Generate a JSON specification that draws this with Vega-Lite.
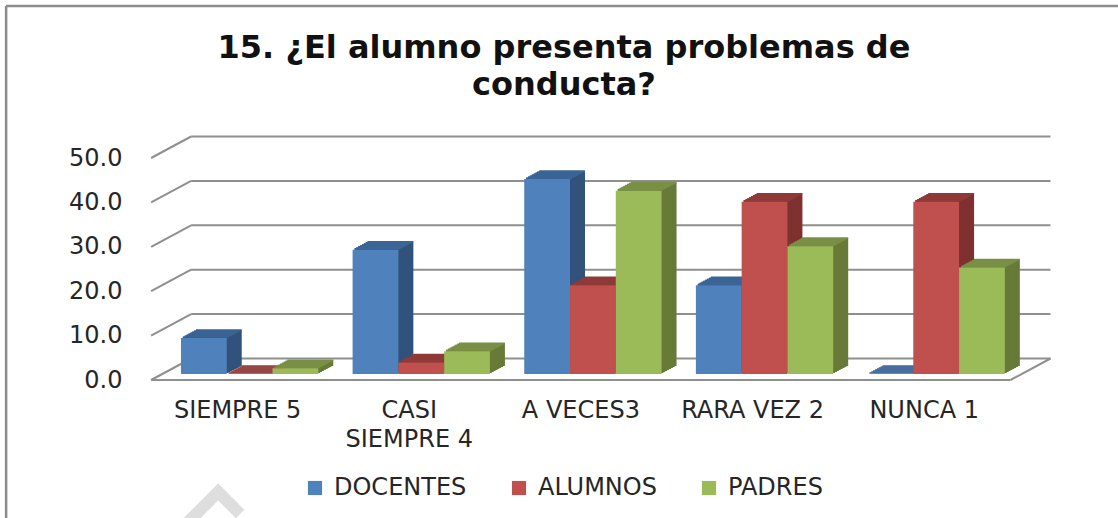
{
"$schema":"https://vega.github.io/schema/vega-lite/v6.json",
"width":1112,"height":512,
"autosize":{"type":"none"},
"padding":{"left":6,"top":6,"right":0,"bottom":0},
"background":"white",
"view":{"stroke":null},
"title":{"text":["15. ¿El alumno presenta problemas de","conducta?"],"font":"DejaVu Sans","fontWeight":"bold","fontSize":32,"color":"#111111","anchor":"middle","frame":"group","lineHeight":37,"offset":-122,"dx":2,"baseline":"alphabetic"},
"datasets":{
"bars":[
{"group":"SIEMPRE 5","serie":"DOCENTES","valor":8.1},
{"group":"SIEMPRE 5","serie":"ALUMNOS","valor":0},
{"group":"SIEMPRE 5","serie":"PADRES","valor":1.3},
{"group":"CASI SIEMPRE 4","serie":"DOCENTES","valor":28},
{"group":"CASI SIEMPRE 4","serie":"ALUMNOS","valor":2.6},
{"group":"CASI SIEMPRE 4","serie":"PADRES","valor":5.1},
{"group":"A VECES3","serie":"DOCENTES","valor":43.9},
{"group":"A VECES3","serie":"ALUMNOS","valor":20},
{"group":"A VECES3","serie":"PADRES","valor":41.3},
{"group":"RARA VEZ 2","serie":"DOCENTES","valor":20},
{"group":"RARA VEZ 2","serie":"ALUMNOS","valor":38.8},
{"group":"RARA VEZ 2","serie":"PADRES","valor":28.8},
{"group":"NUNCA 1","serie":"DOCENTES","valor":0},
{"group":"NUNCA 1","serie":"ALUMNOS","valor":38.8},
{"group":"NUNCA 1","serie":"PADRES","valor":24}
],
"levels":[{"level":0},{"level":10},{"level":20},{"level":30},{"level":40},{"level":50}],
"floor":[{"level":0}]
},
"data":{"name":"bars"},
"layer":[
{"data":{"name":"levels"},"mark":{"type":"rule","stroke":"#8f8f8f","strokeWidth":2,"xOffset":-58.5,"x2Offset":114.3,"yOffset":-15.5},
 "encoding":{"x":{"datum":"SIEMPRE 5","type":"nominal","axis":null,"scale":{"domain":["SIEMPRE 5","CASI SIEMPRE 4","A VECES3","RARA VEZ 2","NUNCA 1"],"range":[157.8,1016],"paddingInner":0.2,"paddingOuter":0.1}},"x2":{"datum":"NUNCA 1"},
  "y":{"field":"level","type":"quantitative","axis":null,"scale":{"domain":[0,50],"range":[368,146],"nice":false,"zero":false}}}},
{"data":{"name":"levels"},"mark":{"type":"rule","stroke":"#8f8f8f","strokeWidth":2,"xOffset":-98.5,"x2Offset":-58.5,"yOffset":6,"y2Offset":-15.5},
 "encoding":{"x":{"datum":"SIEMPRE 5","type":"nominal","axis":null,"scale":{"domain":["SIEMPRE 5","CASI SIEMPRE 4","A VECES3","RARA VEZ 2","NUNCA 1"],"range":[157.8,1016],"paddingInner":0.2,"paddingOuter":0.1}},"x2":{"datum":"SIEMPRE 5"},
  "y":{"field":"level","type":"quantitative","axis":null},"y2":{"field":"level"}}},
{"data":{"name":"floor"},"mark":{"type":"rule","stroke":"#8f8f8f","strokeWidth":2,"xOffset":-98.5,"x2Offset":74.3,"yOffset":6},
 "encoding":{"x":{"datum":"SIEMPRE 5","type":"nominal","axis":null,"scale":{"domain":["SIEMPRE 5","CASI SIEMPRE 4","A VECES3","RARA VEZ 2","NUNCA 1"],"range":[157.8,1016],"paddingInner":0.2,"paddingOuter":0.1}},"x2":{"datum":"NUNCA 1"},
  "y":{"field":"level","type":"quantitative","axis":null}}},
{"data":{"name":"floor"},"mark":{"type":"rule","stroke":"#8f8f8f","strokeWidth":2,"xOffset":74.3,"x2Offset":114.3,"yOffset":6,"y2Offset":-15.5},
 "encoding":{"x":{"datum":"NUNCA 1","type":"nominal","axis":null,"scale":{"domain":["SIEMPRE 5","CASI SIEMPRE 4","A VECES3","RARA VEZ 2","NUNCA 1"],"range":[157.8,1016],"paddingInner":0.2,"paddingOuter":0.1}},"x2":{"datum":"NUNCA 1"},
  "y":{"field":"level","type":"quantitative","axis":null},"y2":{"field":"level"}}},
{"data":{"name":"floor"},"mark":{"type":"rule","stroke":"#8c8c8c","strokeWidth":2.5,"xOffset":-243.5},
 "encoding":{"x":{"datum":"SIEMPRE 5","type":"nominal","axis":null,"scale":{"domain":["SIEMPRE 5","CASI SIEMPRE 4","A VECES3","RARA VEZ 2","NUNCA 1"],"range":[157.8,1016],"paddingInner":0.2,"paddingOuter":0.1}}}},
{"data":{"name":"floor"},"mark":{"type":"rule","stroke":"#8c8c8c","strokeWidth":2.5,"yOffset":-146},
 "encoding":{"y":{"datum":50,"type":"quantitative","axis":null}}},
{"data":{"name":"floor"},"mark":{"type":"rule","stroke":"#dedede","strokeWidth":12,"xOffset":-27.5,"x2Offset":-63.5,"yOffset":114,"y2Offset":150},
 "encoding":{"x":{"datum":"SIEMPRE 5","type":"nominal","axis":null,"scale":{"domain":["SIEMPRE 5","CASI SIEMPRE 4","A VECES3","RARA VEZ 2","NUNCA 1"],"range":[157.8,1016],"paddingInner":0.2,"paddingOuter":0.1}},"x2":{"datum":"SIEMPRE 5"},
  "y":{"field":"level","type":"quantitative","axis":null},"y2":{"field":"level"}}},
{"data":{"name":"floor"},"mark":{"type":"rule","stroke":"#dedede","strokeWidth":12,"xOffset":-35.5,"x2Offset":-9.5,"yOffset":114,"y2Offset":140},
 "encoding":{"x":{"datum":"SIEMPRE 5","type":"nominal","axis":null,"scale":{"domain":["SIEMPRE 5","CASI SIEMPRE 4","A VECES3","RARA VEZ 2","NUNCA 1"],"range":[157.8,1016],"paddingInner":0.2,"paddingOuter":0.1}},"x2":{"datum":"SIEMPRE 5"},
  "y":{"field":"level","type":"quantitative","axis":null},"y2":{"field":"level"}}},

{"mark":{"type":"bar","yOffset":-8,"y2Offset":-8},"encoding":{"x":{"field":"group","type":"nominal","axis":null,"sort":null,"scale":{"range":[172.8,1031],"paddingInner":0.2,"paddingOuter":0.1}},"xOffset":{"field":"serie","type":"nominal","sort":["DOCENTES","ALUMNOS","PADRES"],"scale":{"paddingInner":0,"paddingOuter":0}},"y":{"field":"valor","type":"quantitative","axis":null},"color":{"field":"serie","type":"nominal","legend":null,"scale":{"domain":["DOCENTES","ALUMNOS","PADRES"],"range":["#31527b","#7f312f","#677a38"]}}}},
{"mark":{"type":"bar","yOffset":-7,"y2Offset":-7},"encoding":{"x":{"field":"group","type":"nominal","axis":null,"sort":null,"scale":{"range":[170.9,1029.1],"paddingInner":0.2,"paddingOuter":0.1}},"xOffset":{"field":"serie","type":"nominal","sort":["DOCENTES","ALUMNOS","PADRES"],"scale":{"paddingInner":0,"paddingOuter":0}},"y":{"field":"valor","type":"quantitative","axis":null},"color":{"field":"serie","type":"nominal","legend":null,"scale":{"domain":["DOCENTES","ALUMNOS","PADRES"],"range":["#31527b","#7f312f","#677a38"]}}}},
{"mark":{"type":"bar","yOffset":-6,"y2Offset":-6},"encoding":{"x":{"field":"group","type":"nominal","axis":null,"sort":null,"scale":{"range":[169.05,1027.25],"paddingInner":0.2,"paddingOuter":0.1}},"xOffset":{"field":"serie","type":"nominal","sort":["DOCENTES","ALUMNOS","PADRES"],"scale":{"paddingInner":0,"paddingOuter":0}},"y":{"field":"valor","type":"quantitative","axis":null},"color":{"field":"serie","type":"nominal","legend":null,"scale":{"domain":["DOCENTES","ALUMNOS","PADRES"],"range":["#31527b","#7f312f","#677a38"]}}}},
{"mark":{"type":"bar","yOffset":-5,"y2Offset":-5},"encoding":{"x":{"field":"group","type":"nominal","axis":null,"sort":null,"scale":{"range":[167.2,1025.4],"paddingInner":0.2,"paddingOuter":0.1}},"xOffset":{"field":"serie","type":"nominal","sort":["DOCENTES","ALUMNOS","PADRES"],"scale":{"paddingInner":0,"paddingOuter":0}},"y":{"field":"valor","type":"quantitative","axis":null},"color":{"field":"serie","type":"nominal","legend":null,"scale":{"domain":["DOCENTES","ALUMNOS","PADRES"],"range":["#31527b","#7f312f","#677a38"]}}}},
{"mark":{"type":"bar","yOffset":-4,"y2Offset":-4},"encoding":{"x":{"field":"group","type":"nominal","axis":null,"sort":null,"scale":{"range":[165.3,1023.5],"paddingInner":0.2,"paddingOuter":0.1}},"xOffset":{"field":"serie","type":"nominal","sort":["DOCENTES","ALUMNOS","PADRES"],"scale":{"paddingInner":0,"paddingOuter":0}},"y":{"field":"valor","type":"quantitative","axis":null},"color":{"field":"serie","type":"nominal","legend":null,"scale":{"domain":["DOCENTES","ALUMNOS","PADRES"],"range":["#31527b","#7f312f","#677a38"]}}}},
{"mark":{"type":"bar","yOffset":-3,"y2Offset":-3},"encoding":{"x":{"field":"group","type":"nominal","axis":null,"sort":null,"scale":{"range":[163.4,1021.6],"paddingInner":0.2,"paddingOuter":0.1}},"xOffset":{"field":"serie","type":"nominal","sort":["DOCENTES","ALUMNOS","PADRES"],"scale":{"paddingInner":0,"paddingOuter":0}},"y":{"field":"valor","type":"quantitative","axis":null},"color":{"field":"serie","type":"nominal","legend":null,"scale":{"domain":["DOCENTES","ALUMNOS","PADRES"],"range":["#31527b","#7f312f","#677a38"]}}}},
{"mark":{"type":"bar","yOffset":-2,"y2Offset":-2},"encoding":{"x":{"field":"group","type":"nominal","axis":null,"sort":null,"scale":{"range":[161.55,1019.75],"paddingInner":0.2,"paddingOuter":0.1}},"xOffset":{"field":"serie","type":"nominal","sort":["DOCENTES","ALUMNOS","PADRES"],"scale":{"paddingInner":0,"paddingOuter":0}},"y":{"field":"valor","type":"quantitative","axis":null},"color":{"field":"serie","type":"nominal","legend":null,"scale":{"domain":["DOCENTES","ALUMNOS","PADRES"],"range":["#31527b","#7f312f","#677a38"]}}}},
{"mark":{"type":"bar","yOffset":-1,"y2Offset":-1},"encoding":{"x":{"field":"group","type":"nominal","axis":null,"sort":null,"scale":{"range":[159.7,1017.9],"paddingInner":0.2,"paddingOuter":0.1}},"xOffset":{"field":"serie","type":"nominal","sort":["DOCENTES","ALUMNOS","PADRES"],"scale":{"paddingInner":0,"paddingOuter":0}},"y":{"field":"valor","type":"quantitative","axis":null},"color":{"field":"serie","type":"nominal","legend":null,"scale":{"domain":["DOCENTES","ALUMNOS","PADRES"],"range":["#31527b","#7f312f","#677a38"]}}}},

{"mark":{"type":"tick","size":45.8,"thickness":1.6,"opacity":1,"yOffset":-8},"encoding":{"x":{"field":"group","type":"nominal","axis":null,"sort":null,"scale":{"range":[172.8,1031],"paddingInner":0.2,"paddingOuter":0.1}},"xOffset":{"field":"serie","type":"nominal","sort":["DOCENTES","ALUMNOS","PADRES"],"scale":{"paddingInner":0,"paddingOuter":0}},"y":{"field":"valor","type":"quantitative","axis":null},"color":{"field":"serie","type":"nominal","legend":null,"scale":{"domain":["DOCENTES","ALUMNOS","PADRES"],"range":["#3b6596","#8f3a38","#788f44"]}}}},
{"mark":{"type":"tick","size":45.8,"thickness":1.6,"opacity":1,"yOffset":-7},"encoding":{"x":{"field":"group","type":"nominal","axis":null,"sort":null,"scale":{"range":[170.9,1029.1],"paddingInner":0.2,"paddingOuter":0.1}},"xOffset":{"field":"serie","type":"nominal","sort":["DOCENTES","ALUMNOS","PADRES"],"scale":{"paddingInner":0,"paddingOuter":0}},"y":{"field":"valor","type":"quantitative","axis":null},"color":{"field":"serie","type":"nominal","legend":null,"scale":{"domain":["DOCENTES","ALUMNOS","PADRES"],"range":["#3b6596","#8f3a38","#788f44"]}}}},
{"mark":{"type":"tick","size":45.8,"thickness":1.6,"opacity":1,"yOffset":-6},"encoding":{"x":{"field":"group","type":"nominal","axis":null,"sort":null,"scale":{"range":[169.05,1027.25],"paddingInner":0.2,"paddingOuter":0.1}},"xOffset":{"field":"serie","type":"nominal","sort":["DOCENTES","ALUMNOS","PADRES"],"scale":{"paddingInner":0,"paddingOuter":0}},"y":{"field":"valor","type":"quantitative","axis":null},"color":{"field":"serie","type":"nominal","legend":null,"scale":{"domain":["DOCENTES","ALUMNOS","PADRES"],"range":["#3b6596","#8f3a38","#788f44"]}}}},
{"mark":{"type":"tick","size":45.8,"thickness":1.6,"opacity":1,"yOffset":-5},"encoding":{"x":{"field":"group","type":"nominal","axis":null,"sort":null,"scale":{"range":[167.2,1025.4],"paddingInner":0.2,"paddingOuter":0.1}},"xOffset":{"field":"serie","type":"nominal","sort":["DOCENTES","ALUMNOS","PADRES"],"scale":{"paddingInner":0,"paddingOuter":0}},"y":{"field":"valor","type":"quantitative","axis":null},"color":{"field":"serie","type":"nominal","legend":null,"scale":{"domain":["DOCENTES","ALUMNOS","PADRES"],"range":["#3b6596","#8f3a38","#788f44"]}}}},
{"mark":{"type":"tick","size":45.8,"thickness":1.6,"opacity":1,"yOffset":-4},"encoding":{"x":{"field":"group","type":"nominal","axis":null,"sort":null,"scale":{"range":[165.3,1023.5],"paddingInner":0.2,"paddingOuter":0.1}},"xOffset":{"field":"serie","type":"nominal","sort":["DOCENTES","ALUMNOS","PADRES"],"scale":{"paddingInner":0,"paddingOuter":0}},"y":{"field":"valor","type":"quantitative","axis":null},"color":{"field":"serie","type":"nominal","legend":null,"scale":{"domain":["DOCENTES","ALUMNOS","PADRES"],"range":["#3b6596","#8f3a38","#788f44"]}}}},
{"mark":{"type":"tick","size":45.8,"thickness":1.6,"opacity":1,"yOffset":-3},"encoding":{"x":{"field":"group","type":"nominal","axis":null,"sort":null,"scale":{"range":[163.4,1021.6],"paddingInner":0.2,"paddingOuter":0.1}},"xOffset":{"field":"serie","type":"nominal","sort":["DOCENTES","ALUMNOS","PADRES"],"scale":{"paddingInner":0,"paddingOuter":0}},"y":{"field":"valor","type":"quantitative","axis":null},"color":{"field":"serie","type":"nominal","legend":null,"scale":{"domain":["DOCENTES","ALUMNOS","PADRES"],"range":["#3b6596","#8f3a38","#788f44"]}}}},
{"mark":{"type":"tick","size":45.8,"thickness":1.6,"opacity":1,"yOffset":-2},"encoding":{"x":{"field":"group","type":"nominal","axis":null,"sort":null,"scale":{"range":[161.55,1019.75],"paddingInner":0.2,"paddingOuter":0.1}},"xOffset":{"field":"serie","type":"nominal","sort":["DOCENTES","ALUMNOS","PADRES"],"scale":{"paddingInner":0,"paddingOuter":0}},"y":{"field":"valor","type":"quantitative","axis":null},"color":{"field":"serie","type":"nominal","legend":null,"scale":{"domain":["DOCENTES","ALUMNOS","PADRES"],"range":["#3b6596","#8f3a38","#788f44"]}}}},
{"mark":{"type":"tick","size":45.8,"thickness":1.6,"opacity":1,"yOffset":-1},"encoding":{"x":{"field":"group","type":"nominal","axis":null,"sort":null,"scale":{"range":[159.7,1017.9],"paddingInner":0.2,"paddingOuter":0.1}},"xOffset":{"field":"serie","type":"nominal","sort":["DOCENTES","ALUMNOS","PADRES"],"scale":{"paddingInner":0,"paddingOuter":0}},"y":{"field":"valor","type":"quantitative","axis":null},"color":{"field":"serie","type":"nominal","legend":null,"scale":{"domain":["DOCENTES","ALUMNOS","PADRES"],"range":["#3b6596","#8f3a38","#788f44"]}}}},

{"mark":{"type":"bar"},
 "encoding":{
  "x":{"field":"group","type":"nominal","sort":null,"title":null,"scale":{"range":[157.8,1016],"paddingInner":0.2,"paddingOuter":0.1},
   "axis":{"orient":"bottom","domain":false,"ticks":false,"tickSize":0,"labelPadding":0,"offset":-120,"labelAngle":0,"labelOffset":-12,"labelFont":"DejaVu Sans","labelFontSize":24,"labelColor":"#262626","labelLineHeight":29,"labelLimit":200,"labelExpr":"datum.label == 'CASI SIEMPRE 4' ? ['CASI','SIEMPRE 4'] : datum.label"}},
  "xOffset":{"field":"serie","type":"nominal","sort":["DOCENTES","ALUMNOS","PADRES"],"scale":{"paddingInner":0,"paddingOuter":0}},
  "y":{"field":"valor","type":"quantitative","title":null,
   "axis":{"orient":"left","domain":false,"ticks":false,"tickSize":0,"labelPadding":0,"offset":-116,"grid":false,"values":[0,10,20,30,40,50],"format":".1f","labelOffset":6,"labelFont":"DejaVu Sans","labelFontSize":24,"labelColor":"#262626"}},
  "color":{"field":"serie","type":"nominal","title":null,
   "scale":{"domain":["DOCENTES","ALUMNOS","PADRES"],"range":["#4f81bd","#c0504d","#9bbb59"]},
   "legend":{"orient":"none","legendX":297,"legendY":470,"direction":"horizontal","symbolType":"square","symbolSize":200,"symbolStrokeWidth":0,"labelFont":"DejaVu Sans","labelFontSize":24,"labelColor":"#262626","labelOffset":7,"columnPadding":40,"labelLimit":200}}
 }}
],
"resolve":{"scale":{"color":"independent","x":"independent"},"axis":{"x":"independent","y":"independent"}}
}
